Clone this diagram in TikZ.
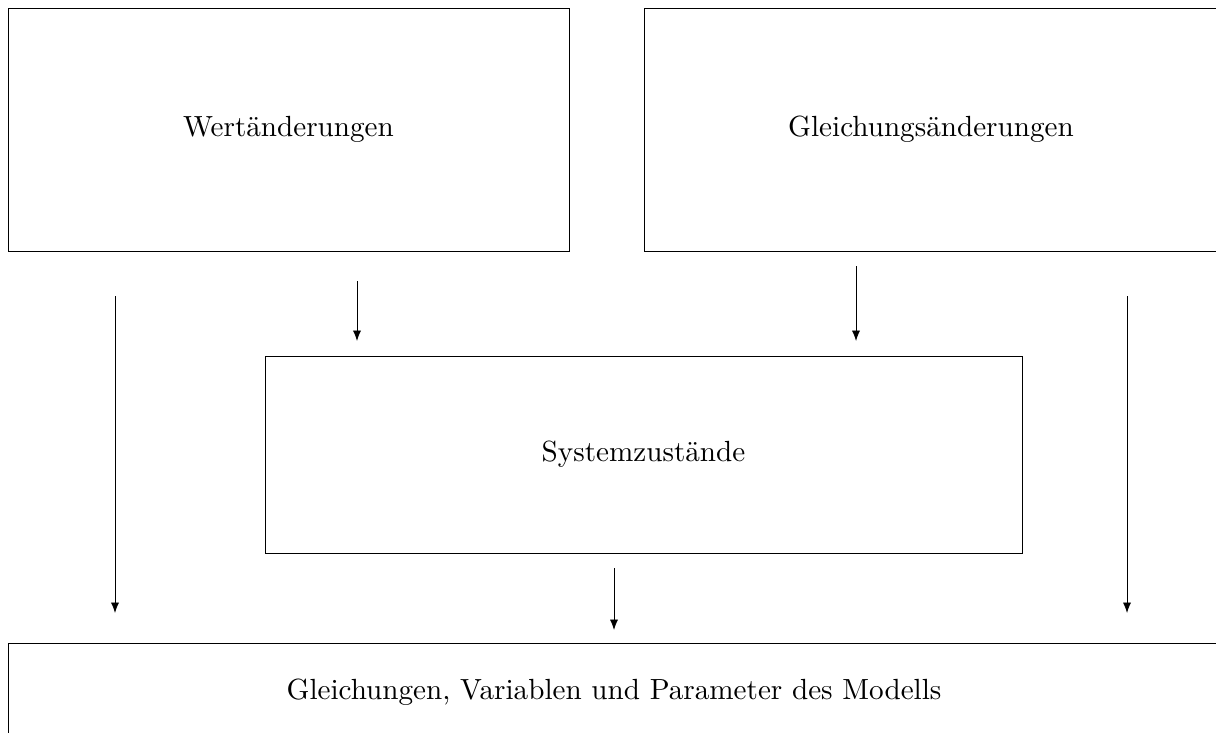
\documentclass[tikz,border=0pt]{standalone}
\usetikzlibrary{arrows.meta}
\begin{document}
\begin{tikzpicture}[x=0.343pt,y=-0.343pt,
  box/.style={draw, line width=0.3pt, inner sep=0pt, outer sep=0pt, font=\normalsize},
  arr/.style={line width=0.3pt, -{Latex[length=3.6pt,width=2.8pt]}}]
\useasboundingbox (0,0) rectangle (1216,732);
\clip (0,0) rectangle (1216,732);
% boxes
\node[box, minimum width=561*0.343pt, minimum height=243*0.343pt] (wert) at (288.5,129.5) {Wertänderungen};
\node[box, minimum width=574*0.343pt, minimum height=243*0.343pt] (gleich) at (931,129.5) {Gleichungsänderungen};
\node[box, minimum width=757*0.343pt, minimum height=197*0.343pt] (sys) at (643.5,454.5) {Systemzustände};
\node[box, minimum width=1212*0.343pt, minimum height=98*0.343pt] (modell) at (614,692) {Gleichungen, Variablen und Parameter des Modells};
% arrow end points
\coordinate (a1s) at (115,296); \coordinate (a1e) at (115,613);
\coordinate (a2s) at (357,281); \coordinate (a2e) at (357,341);
\coordinate (a3s) at (856,266); \coordinate (a3e) at (856,341);
\coordinate (a4s) at (1127,296); \coordinate (a4e) at (1127,613);
\coordinate (a5s) at (614,568); \coordinate (a5e) at (614,630);
\draw[arr] (a1s) -- (a1e);
\draw[arr] (a2s) -- (a2e);
\draw[arr] (a3s) -- (a3e);
\draw[arr] (a4s) -- (a4e);
\draw[arr] (a5s) -- (a5e);
\end{tikzpicture}
\end{document}
